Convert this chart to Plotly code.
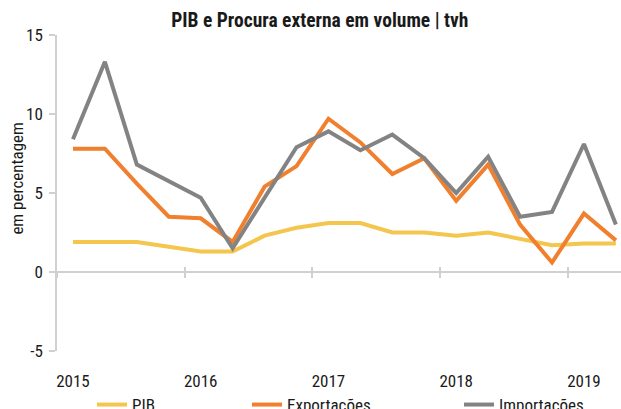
import plotly.graph_objects as go

categories = ["2015T1","2015T2","2015T3","2015T4","2016T1","2016T2","2016T3","2016T4",
              "2017T1","2017T2","2017T3","2017T4","2018T1","2018T2","2018T3","2018T4",
              "2019T1","2019T2"]
pib = [1.9,1.9,1.9,1.6,1.3,1.3,2.3,2.8,3.1,3.1,2.5,2.5,2.3,2.5,2.1,1.7,1.8,1.8]
exportacoes = [7.8,7.8,5.6,3.5,3.4,1.9,5.4,6.7,9.7,8.2,6.2,7.2,4.5,6.8,3.0,0.6,3.7,2.0]
importacoes = [8.4,13.3,6.8,5.75,4.7,1.5,4.7,7.9,8.9,7.7,8.7,7.2,5.0,7.3,3.5,3.8,8.1,3.0]
year_labels = ["2015","2016","2017","2018","2019"]
y_ticks = [-5, 0, 5, 10, 15]
y_tick_text = ["-5", "0", "5", "10", "15"]

FONT = "Liberation Sans Narrow, Arial Narrow, Roboto Condensed, Liberation Sans, sans-serif"
AX = "#d0d0d0"
TXT = "#1a1a1a"

x = list(range(len(categories)))
fig = go.Figure()
series = [("PIB", pib, "#F5C64E", "legend"),
          ("Exportações", exportacoes, "#F07F2E", "legend2"),
          ("Importações", importacoes, "#838383", "legend3")]
for name, vals, col, lg in series:
    fig.add_trace(go.Scatter(x=x, y=vals, mode="lines", name=name,
                             line=dict(color=col, width=4), legend=lg,
                             hovertext=categories))

year_pos = [x[i] for i in range(0, len(x), 4)]
bounds = [p - 0.5 for p in year_pos]
xr = [-0.5, 17.16]

leg_common = dict(orientation="h", xref="container", yref="container",
                  yanchor="middle", xanchor="left", y=4/409,
                  font=dict(family=FONT, size=17, color=TXT),
                  bgcolor="rgba(0,0,0,0)")

fig.update_layout(
    width=621, height=409,
    margin=dict(l=57, r=0, t=35, b=58, autoexpand=False),
    paper_bgcolor="white", plot_bgcolor="white",
    showlegend=True,
    title=dict(text="<b>PIB e Procura externa em volume | tvh</b>",
               x=0.515, xanchor="center", y=1-20/409, yanchor="middle",
               font=dict(family=FONT, size=19.5, color=TXT)),
    xaxis=dict(range=xr, tickvals=year_pos, ticktext=year_labels,
               showline=False, ticks="", showgrid=False, zeroline=False,
               tickfont=dict(family=FONT, size=17, color=TXT),
               ticklabelstandoff=18, automargin=False),
    xaxis2=dict(range=xr, overlaying="x", anchor="free", position=0.25,
                tickvals=bounds, showticklabels=False, showline=True,
                linecolor=AX, linewidth=1.5, ticks="outside", ticklen=5,
                tickcolor=AX, tickwidth=1.5, showgrid=False, zeroline=False,
                automargin=False),
    xaxis3=dict(range=xr, overlaying="x", anchor="free", position=0.25,
                tickvals=bounds, showticklabels=False, showline=False,
                ticks="inside", ticklen=5, tickcolor=AX, tickwidth=1.5,
                showgrid=False, zeroline=False, automargin=False),
    yaxis=dict(range=[-5, 15], tickvals=y_ticks, ticktext=y_tick_text,
               showline=True, linecolor=AX,
               linewidth=1.5, ticks="outside", ticklen=6, tickcolor=AX,
               tickwidth=1.5, showgrid=False, zeroline=False,
               tickfont=dict(family=FONT, size=17, color=TXT),
               ticklabelstandoff=3, automargin=False),
    legend=dict(x=92/621, **leg_common),
    legend2=dict(x=247/621, **leg_common),
    legend3=dict(x=459/621, **leg_common),
    annotations=[dict(text="em percentagem", textangle=-90, xref="paper", yref="paper",
                      x=-0.07, y=0.544, xanchor="center", yanchor="middle",
                      showarrow=False, font=dict(family=FONT, size=17, color=TXT))],
)
fig.add_trace(go.Scatter(x=[0], y=[0], xaxis="x2", mode="markers", marker=dict(opacity=0),
                         showlegend=False, hoverinfo="skip"))
fig.add_trace(go.Scatter(x=[0], y=[0], xaxis="x3", mode="markers", marker=dict(opacity=0),
                         showlegend=False, hoverinfo="skip"))
fig.write_html("out.html", config={"displayModeBar": False},
               post_script="document.body.style.margin='0px';document.body.style.overflow='hidden';")
